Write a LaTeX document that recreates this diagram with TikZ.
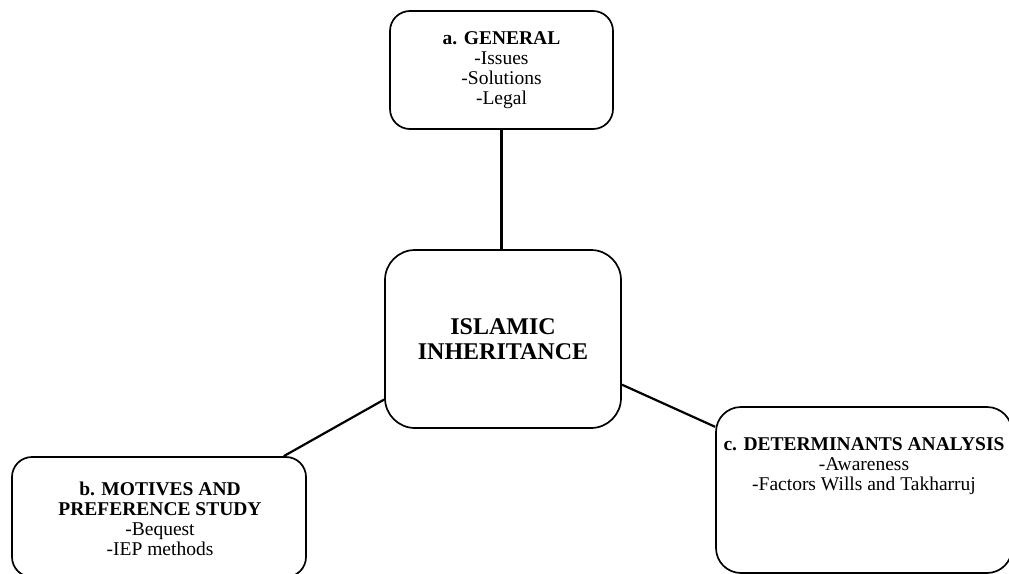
\documentclass[tikz,border=0pt]{standalone}
\usepackage{fontspec}
\setmainfont{Liberation Serif}
\begin{document}
\begin{tikzpicture}[x=1pt,y=-1pt,
  box/.style={draw=black, line width=1.7pt, rounded corners=#1, inner sep=0pt, align=center},
  box/.default=20pt,
  link/.style={draw=black, line width=2.2pt},
  small/.style={font=\fontsize{19.5}{19.8}\selectfont, align=center, inner sep=0pt},
  big/.style={font=\fontsize{24}{25}\selectfont\bfseries, align=center}
]
\useasboundingbox (0,0) rectangle (1009,573);
\clip (0,0) rectangle (1009,573);
\node[box, minimum width=223pt, minimum height=118pt, small] (gen) at (501.5,70)
  {\textbf{a. GENERAL}\\-Issues\\-Solutions\\-Legal};
\node[box=30pt, minimum width=236pt, minimum height=178pt, big] (isl) at (503,339)
  {ISLAMIC\\INHERITANCE};
\node[box, minimum width=294pt, minimum height=120pt] (mot) at (159,517) {};
\node[small] (mottext) at (160,519)
  {\textbf{b. MOTIVES AND}\\\textbf{PREFERENCE STUDY}\\-Bequest\\-IEP methods};
\node[box=25pt, minimum width=296pt, minimum height=166pt] (det) at (864,490) {};
\node[small] (dettext) at (864,466)
  {\textbf{c. DETERMINANTS ANALYSIS}\\-Awareness\\-Factors Wills and Takharruj};
\draw[link] (gen.south) -- (gen.south |- isl.north);
\draw[link] (mot.26.8) -- (isl.207.3);
\draw[link] (isl.-21.7) -- (det.157.3);
\end{tikzpicture}
\end{document}
